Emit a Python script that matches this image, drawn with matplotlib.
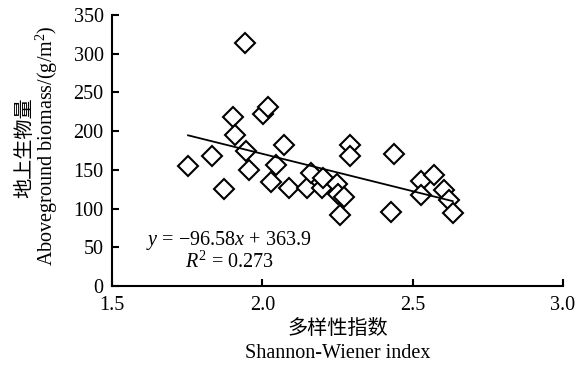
import matplotlib
matplotlib.use("Agg")
import matplotlib.pyplot as plt
import numpy as np

plt.rcParams['font.family'] = ['Liberation Serif', 'Noto Sans CJK SC']
plt.rcParams['mathtext.fontset'] = 'custom'
plt.rcParams['mathtext.rm'] = 'Liberation Serif'
plt.rcParams['mathtext.it'] = 'Liberation Serif:italic'

shannon = [1.753, 1.833, 1.873, 1.903, 1.910, 1.943, 1.947, 1.957, 2.003, 2.020,
           2.030, 2.047, 2.073, 2.090, 2.150, 2.163, 2.200, 2.203, 2.247, 2.253,
           2.273, 2.257, 2.290, 2.293, 2.437, 2.427, 2.527, 2.527, 2.570, 2.603,
           2.620, 2.633]
biomass = [155, 168, 125, 218, 195, 314, 175, 150, 222, 231,
           134, 156, 182, 127, 127, 146, 127, 140, 132, 119,
           115, 92, 182, 168, 170, 95, 136, 118, 143, 124,
           111, 94]

slope, intercept = -96.58, 363.9
r2 = 0.273

xticks = [1.5, 2.0, 2.5, 3.0]
yticks = [0, 50, 100, 150, 200, 250, 300, 350]

FS = 14.5

fig = plt.figure(figsize=(5.79, 3.66), dpi=100)
ax = fig.add_axes([112/579, 1-286/366, (563-112)/579, (286-15)/366])

ax.plot(shannon, biomass, linestyle='none', marker='D', markersize=10,
        markerfacecolor='white', markeredgecolor='black', markeredgewidth=1.5)
xf = np.array([min(shannon), max(shannon)])
ax.plot(xf, slope*xf + intercept, color='black', linewidth=1.3)

ax.set_xlim(1.5, 3.0)
ax.set_ylim(0, 350)
ax.set_xticks(xticks)
ax.set_xticklabels([f"{t:.1f}" for t in xticks])
ax.set_yticks(yticks)
ax.set_yticklabels([str(t) for t in yticks])
for s in ['top', 'right']:
    ax.spines[s].set_visible(False)
for s in ['left', 'bottom']:
    ax.spines[s].set_linewidth(1.5)
ax.tick_params(direction='in', length=5, width=1.5, labelsize=FS)
ax.tick_params(axis='x', pad=7)
ax.tick_params(axis='y', pad=6)

ax.text((229-112)/451, (286-240)/271, f"$y$ = \u2212{abs(slope):.2f}$x$ + {intercept:.1f}",
        transform=ax.transAxes, ha='center', va='center', fontsize=FS)
ax.text((230-112)/451, (286-262)/271, f"$R^2$ = {r2:.3f}",
        transform=ax.transAxes, ha='center', va='center', fontsize=FS)

fig.text(25/579, 1-148/366, "地上生物量", rotation=90, ha='center', va='center',
         fontsize=FS, family=['Noto Sans CJK SC'])
fig.text(47/579, 1-146/366, r"Aboveground biomass/(g/m$^2$)", rotation=90,
         ha='center', va='center', fontsize=FS)
fig.text(337.5/579, 1-328/366, "多样性指数", ha='center', va='center',
         fontsize=FS, family=['Noto Sans CJK SC'])
fig.text(337.5/579, 1-353/366, "Shannon-Wiener index", ha='center', va='center',
         fontsize=FS)

fig.savefig("out.png", dpi=100)
